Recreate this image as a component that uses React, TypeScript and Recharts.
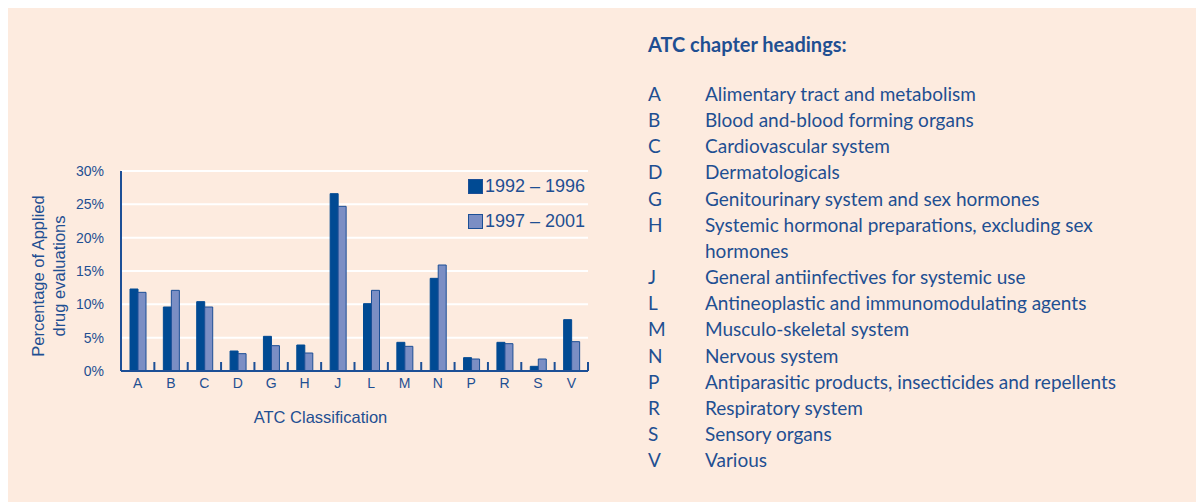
import { Bar, BarChart, CartesianGrid, Legend, XAxis, YAxis } from 'recharts';

const CATEGORIES = ['A', 'B', 'C', 'D', 'G', 'H', 'J', 'L', 'M', 'N', 'P', 'R', 'S', 'V'];
const SERIES_1992 = [12.3, 9.6, 10.4, 3.0, 5.2, 3.9, 26.6, 10.1, 4.3, 13.9, 2.0, 4.3, 0.7, 7.7];
const SERIES_1997 = [11.8, 12.1, 9.6, 2.6, 3.8, 2.7, 24.7, 12.1, 3.7, 15.9, 1.8, 4.1, 1.8, 4.4];
const Y_TICKS = [0, 5, 10, 15, 20, 25, 30];

const HEADING_CODES = ['A', 'B', 'C', 'D', 'G', 'H', 'J', 'L', 'M', 'N', 'P', 'R', 'S', 'V'];
const HEADING_TEXTS = [
  'Alimentary tract and metabolism',
  'Blood and-blood forming organs',
  'Cardiovascular system',
  'Dermatologicals',
  'Genitourinary system and sex hormones',
  'Systemic hormonal preparations, excluding sex\nhormones',
  'General antiinfectives for systemic use',
  'Antineoplastic and immunomodulating agents',
  'Musculo-skeletal system',
  'Nervous system',
  'Antiparasitic products, insecticides and repellents',
  'Respiratory system',
  'Sensory organs',
  'Various',
];

const BG = '#fdebdf';
const DARK = '#004a93';
const LIGHT = '#7b8ec4';
const EDGE = '#1c4f96';
const TEXT = '#1f4f92';
const CHART_FONT = '"Liberation Sans", Arial, sans-serif';
const LIST_FONT = 'Lato, "Open Sans", sans-serif';

const data = CATEGORIES.map((c, i) => ({
  code: c,
  y1992: SERIES_1992[i],
  y1997: SERIES_1997[i],
}));

const legendItems = [
  { label: '1992 \u2013 1996', color: DARK },
  { label: '1997 \u2013 2001', color: LIGHT },
];

function CategoryTick(props: any) {
  const { x, y, payload, width, visibleTicksCount } = props;
  const half = width && visibleTicksCount ? width / visibleTicksCount / 2 : 0;
  return (
    <g>
      <line x1={x + half} x2={x + half} y1={y} y2={y - 9} stroke={EDGE} strokeWidth={2} />
      <text
        x={x}
        y={y + 12}
        textAnchor="middle"
        dominantBaseline="central"
        fill={TEXT}
        fontSize={14}
        fontFamily={CHART_FONT}
      >
        {payload.value}
      </text>
    </g>
  );
}

function YTitle(props: any) {
  const vb = props.viewBox ?? { x: 0, y: 0, width: 0, height: 0 };
  const cy = vb.y + vb.height / 2 + 5;
  const lines = ['Percentage of Applied', 'drug evaluations'];
  const xs = [vb.x - 23, vb.x - 2];
  return (
    <g>
      {lines.map((t, i) => (
        <text
          key={t}
          x={xs[i]}
          y={cy}
          transform={`rotate(-90, ${xs[i]}, ${cy})`}
          textAnchor="middle"
          dominantBaseline="central"
          fill={TEXT}
          fontSize={16.5}
          fontFamily={CHART_FONT}
        >
          {t}
        </text>
      ))}
    </g>
  );
}

function XTitle(props: any) {
  const vb = props.viewBox ?? { x: 0, y: 0, width: 0, height: 0 };
  return (
    <text
      x={vb.x + vb.width / 2 - 34}
      y={vb.y + 46}
      textAnchor="middle"
      dominantBaseline="central"
      fill={TEXT}
      fontSize={16.5}
      fontFamily={CHART_FONT}
    >
      ATC Classification
    </text>
  );
}

function LegendBox() {
  return (
    <div style={{ fontFamily: CHART_FONT, color: TEXT }}>
      {legendItems.map((item, i) => (
        <div
          key={item.label}
          style={{ display: 'flex', alignItems: 'center', height: 14, marginTop: i === 0 ? 0 : 21 }}
        >
          <span
            style={{
              display: 'inline-block',
              width: 13,
              height: 13,
              background: item.color,
              border: `1px solid ${EDGE}`,
              marginRight: 2,
            }}
          />
          <span style={{ fontSize: 18, lineHeight: '14px', whiteSpace: 'nowrap' }}>{item.label}</span>
        </div>
      ))}
    </div>
  );
}

export default function App() {
  return (
    <div style={{ position: 'relative', width: 1196, height: 494, background: BG, overflow: 'hidden' }}>
      <div style={{ position: 'absolute', left: 0, top: 0 }}>
        <BarChart
          width={620}
          height={494}
          data={data}
          margin={{ top: 163, right: 40, bottom: 71, left: 53 }}
          barSize={8}
          barGap={0}
        >
          <CartesianGrid vertical={false} stroke="#ffffff" strokeWidth={2} />
          <XAxis
            dataKey="code"
            height={60}
            tickSize={0}
            tickMargin={0}
            axisLine={{ stroke: EDGE, strokeWidth: 2 }}
            tick={<CategoryTick />}
            interval={0}
            label={<XTitle />}
          />
          <YAxis
            width={60}
            domain={[0, 30]}
            ticks={Y_TICKS}
            tickFormatter={(v: number) => `${v}%`}
            tickSize={0}
            tickMargin={17}
            tickLine={false}
            axisLine={{ stroke: EDGE, strokeWidth: 2 }}
            tick={{ fill: TEXT, fontSize: 14, fontFamily: CHART_FONT }}
            label={<YTitle />}
          />
          <Legend
            layout="vertical"
            align="center"
            verticalAlign="middle"
            wrapperStyle={{ left: 460, top: 171, width: 140 }}
            content={() => <LegendBox />}
          />
          <Bar dataKey="y1992" name="1992 – 1996" fill={DARK} stroke={DARK} strokeWidth={1} isAnimationActive={false} />
          <Bar dataKey="y1997" name="1997 – 2001" fill={LIGHT} stroke={EDGE} strokeWidth={1} isAnimationActive={false} />
        </BarChart>
      </div>

      <div style={{ position: 'absolute', left: 640, top: 0, fontFamily: LIST_FONT, color: TEXT }}>
        <div style={{ position: 'absolute', top: 24, left: 0, fontSize: 20, fontWeight: 700, lineHeight: '24px', whiteSpace: 'nowrap' }}>
          ATC chapter headings:
        </div>
        <div style={{ position: 'absolute', top: 73, left: 0, width: 540, fontSize: 19, lineHeight: '26.15px' }}>
          {HEADING_CODES.map((code, i) => (
            <div key={code} style={{ display: 'flex' }}>
              <span style={{ width: 57, flex: 'none' }}>{code}</span>
              <span style={{ whiteSpace: 'pre' }}>{HEADING_TEXTS[i]}</span>
            </div>
          ))}
        </div>
      </div>
    </div>
  );
}
